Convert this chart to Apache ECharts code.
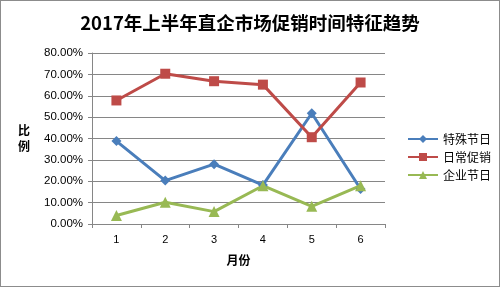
<!DOCTYPE html>
<html><head><meta charset="utf-8">
<script src="https://cdn.jsdelivr.net/npm/echarts@6/dist/echarts.min.js"></script>
<style>html,body{margin:0;padding:0;background:#fff}
#c{width:500px;height:287px;box-sizing:border-box;border:1px solid #8c8c8c}</style>
</head><body><div id="c"></div>
<script>
var months = ['1','2','3','4','5','6'];
var seriesNames = ['特殊节日','日常促销','企业节日'];
var special = [38.8, 20.3, 28.0, 18.2, 51.8, 16.4];
var daily = [57.8, 70.3, 66.8, 65.2, 40.6, 66.2];
var corporate = [4.0, 10.2, 5.8, 17.9, 8.3, 17.9];
var yTicks = [0,10,20,30,40,50,60,70,80];
var colors = ['#4a7ebb','#be4b48','#98b954'];
var symbols = ['diamond','rect','triangle'];
var sizes = [10,10,11];
var chart = echarts.init(document.getElementById('c'));
var font = '"Noto Sans CJK SC", sans-serif';
chart.setOption({
  animation:false,
  title:{text:'2017年上半年直企市场促销时间特征趋势',left:'center',top:8,
    textStyle:{fontFamily:font,fontSize:18.5,fontWeight:'bold',color:'#000'}},
  grid:{left:91,right:114,top:52,bottom:62,containLabel:false},
  legend:{orient:'vertical',left:401,top:127,itemGap:6,itemWidth:30,itemHeight:10,
    data:seriesNames,textStyle:{fontFamily:font,fontSize:12,color:'#000'}},
  xAxis:{type:'category',data:months,boundaryGap:true,name:'月份',nameLocation:'middle',nameGap:30,
    nameTextStyle:{fontFamily:font,fontSize:12,fontWeight:'bold',color:'#000'},
    axisLine:{lineStyle:{color:'#868686'}},axisTick:{show:true,length:4,lineStyle:{color:'#868686'}},
    axisLabel:{fontFamily:'Liberation Sans',fontSize:11,color:'#000',margin:10}},
  yAxis:{type:'value',min:yTicks[0],max:yTicks[yTicks.length-1],interval:10,
    name:'比\n例',nameLocation:'middle',nameRotate:0,nameGap:62,
    nameTextStyle:{fontFamily:font,fontSize:12,fontWeight:'bold',color:'#000',lineHeight:16},
    axisLine:{show:true,lineStyle:{color:'#868686'}},axisTick:{show:true,length:4,lineStyle:{color:'#868686'}},
    splitLine:{lineStyle:{color:'#868686'}},
    axisLabel:{fontFamily:'Liberation Sans',fontSize:11.5,color:'#000',margin:9,
      formatter:function(v){return v.toFixed(2)+'%';}}},
  series:[special,daily,corporate].map(function(d,i){
    return {name:seriesNames[i],type:'line',data:d,color:colors[i],symbol:symbols[i],symbolSize:sizes[i],
      showAllSymbol:true,lineStyle:{width:3,color:colors[i]},itemStyle:{color:colors[i]}};
  })
});
</script></body></html>
